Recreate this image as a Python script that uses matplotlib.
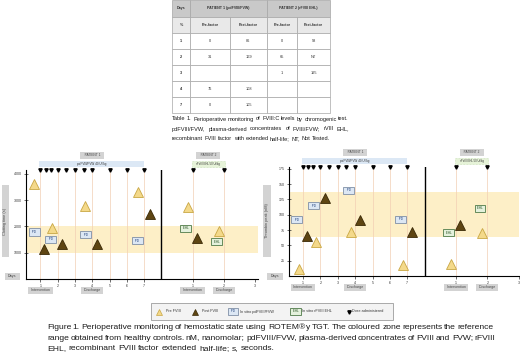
import matplotlib
matplotlib.use('Agg')
import matplotlib.pyplot as plt
from matplotlib.patches import Rectangle

plt.rcParams['font.family'] = ['Liberation Sans', 'DejaVu Sans']

# ---- table data ----
table_days = ['1', '2', '3', '4', '7']
p1_pre = ['0', '31', '', '76', '0']
p1_post = ['86', '169', '', '108', '105']
p2_pre = ['0', '65', '1', '', '']
p2_post = ['98', 'NT', '195', '', '']

# ---- clotting time (s) ----
ct_pre1_day = [0.65, 1.7, 3.6, 6.65]
ct_pre1 = [3620, 1940, 2780, 3310]
ct_post1_day = [1.2, 2.25, 4.3, 7.35]
ct_post1 = [1150, 1330, 1330, 2480]
ct_pd_day = [0.65, 1.6, 3.6, 6.6]
ct_pd = [1790, 1520, 1680, 1450]
ct_pre2_day = [0.84, 1.84]
ct_pre2 = [2740, 1830]
ct_post2_day = [1.13]
ct_post2 = [1560]
ct_ehl_day = [0.77, 1.77]
ct_ehl = [1940, 1410]

# ---- thrombin peak (nM) ----
tp_pre1_day = [0.77, 1.73, 3.74, 6.73]
tp_pre1 = [11, 56, 72, 18]
tp_post1_day = [1.23, 2.25, 4.26, 7.27]
tp_post1 = [65, 128, 92, 72]
tp_pd_day = [0.64, 1.6, 3.63, 6.6]
tp_pd = [92, 115, 140, 93]
tp_pre2_day = [0.84, 1.84]
tp_pre2 = [20, 71]
tp_post2_day = [1.13]
tp_post2 = [83]
tp_ehl_day = [0.76, 1.76]
tp_ehl = [71, 111]

dose_p1 = [1, 1.3, 1.6, 2, 2.5, 3, 3.5, 4, 5, 6, 7]
dose_p2 = [1, 2]

table_caption = [
    "Table 1. Perioperative monitoring of FVIII:C levels by chromogenic test.",
    "pdFVIII/FVW, plasma-derived concentrates of FVIII/FVW; rVIII EHL,",
    "recombinant FVIII factor with extended half-life; NT, Not Tested.",
]
fig_caption = [
    "Figure 1. Perioperative monitoring of hemostatic state using ROTEM\u00ae y TGT. The coloured zone represents the reference",
    "range obtained from healthy controls. nM, nanomolar; pdFVIII/FVW, plasma-derived concentrates of FVIII and FVW; rFVIII",
    "EHL, recombinant FVIII factor extended half-life; s, seconds.",
]

PRE_FC, PRE_EC = '#f4d98a', '#c9a744'
POST_FC, POST_EC = '#5e4512', '#3a2906'
PD_FC, PD_EC = '#dce7f4', '#7f8fa6'
EHL_FC, EHL_EC = '#e4f1dc', '#4f7a48'
BAND = '#fdefc7'
GREY = '#d3d3d3'

W, H = 520, 359
fig = plt.figure(figsize=(W / 100, H / 100), dpi=100)


def add_ax(x0, y0, x1, y1):
    return fig.add_axes([x0 / W, 1 - y1 / H, (x1 - x0) / W, (y1 - y0) / H])


P2_OFF, P2_SCALE = 8.0, 1.8


def p2x(days):
    return [P2_OFF + d * P2_SCALE for d in days]


def box_text(ax, x, y, s, fc, ec, fs=2.2, color='#1f3f7a', **kw):
    ax.text(x, y, s, fontsize=fs, color=color, ha='center', va='center',
            bbox=dict(boxstyle='square,pad=0.5', fc=fc, ec=ec, lw=0.6), **kw)


def panel(ax, xlim, ymax, yticks, band, pre1, post1, pd1, pre2, post2, ehl2):
    ax.set_xlim(*xlim)
    ax.set_ylim(0, ymax)
    ax.axhspan(band[0], band[1], color=BAND, zorder=0, lw=0)
    for d in list(range(1, 8)) + p2x([1, 2]):
        ax.axvline(d, color='#f2cfb4', lw=0.5, zorder=0.5)
    ax.axvline(P2_OFF, color='black', lw=1.0, zorder=1)
    for s in ['top', 'right']:
        ax.spines[s].set_visible(False)
    for s in ['left', 'bottom']:
        ax.spines[s].set_linewidth(0.8)
    ax.set_xticks(list(range(1, 8)) + p2x([1, 2, 3]))
    ax.set_xticklabels([str(i) for i in range(1, 8)] + ['1', '2', '3'])
    ax.set_yticks(yticks)
    ax.tick_params(labelsize=2.6, length=2, width=0.5, pad=1.5, colors='#333333')
    ax.tick_params(axis='y', direction='inout', length=3)

    (d, v), (d2, v2) = pre1, pre2
    ax.plot(list(d) + p2x(d2), list(v) + list(v2), '^', ms=6.8, mfc=PRE_FC, mec=PRE_EC,
            mew=0.6, ls='none', zorder=4)
    (d, v), (d2, v2) = post1, post2
    ax.plot(list(d) + p2x(d2), list(v) + list(v2), '^', ms=6.8, mfc=POST_FC, mec=POST_EC,
            mew=0.6, ls='none', zorder=4)
    for x, y in zip(*pd1):
        box_text(ax, x, y, '  PD  ', PD_FC, PD_EC, zorder=5)
    for x, y in zip(p2x(ehl2[0]), ehl2[1]):
        box_text(ax, x, y, ' EHL ', EHL_FC, EHL_EC, color='#234d1e', zorder=5)

    doses = dose_p1 + p2x(dose_p2)
    ax.plot(doses, [ymax] * len(doses), 'v', color='black', ms=2.4, ls='none',
            clip_on=False, zorder=6)

    tr = ax.get_xaxis_transform()
    ax.add_patch(Rectangle((0.92, 1.025), 7.0 - 0.92, 0.06, transform=tr, fc='#dce8f5',
                           ec='none', clip_on=False))
    ax.text(3.96, 1.055, 'pdFVIII/FVW 40 UI/kg', transform=tr, fontsize=2.2,
            ha='center', va='center', color='#333333')
    g0, g1 = p2x([1, 2])
    ax.add_patch(Rectangle((g0 - 0.05, 1.025), g1 - g0 + 0.1, 0.06, transform=tr, fc='#e6f3d8',
                           ec='#a9d18e', lw=0.4, ls=':', clip_on=False))
    ax.text((g0 + g1) / 2, 1.055, 'rFVIII EHL 50 UI/kg', transform=tr, fontsize=2.0,
            ha='center', va='center', color='#333333')
    for x, s in [(4.0, 'PATIENT 1'), ((g0 + g1) / 2, 'PATIENT 2')]:
        ax.text(x, 1.135, '   ' + s + '   ', transform=tr, fontsize=2.3, ha='center',
                va='center', color='#444444',
                bbox=dict(boxstyle='square,pad=0.5', fc=GREY, ec='none'))
    for x, s in [(1.0, 'Intervention'), (4.0, 'Discharge'),
                 (p2x([1])[0], 'Intervention'), (p2x([2])[0], 'Discharge')]:
        ax.text(x, -0.105, ' ' + s + ' ', transform=tr, fontsize=2.6, ha='center',
                va='center', color='#444444',
                bbox=dict(boxstyle='square,pad=0.5', fc=GREY, ec='none'))


ax1 = add_ax(26, 170, 258, 279)
panel(ax1, (0.17, 13.58), 4150, [1000, 2000, 3000, 4000], (1000, 2000),
      (ct_pre1_day, ct_pre1), (ct_post1_day, ct_post1), (ct_pd_day, ct_pd),
      (ct_pre2_day, ct_pre2), (ct_post2_day, ct_post2), (ct_ehl_day, ct_ehl))

ax2 = add_ax(289, 167, 519, 276)
panel(ax2, (0.2, 13.42), 178, [25, 50, 75, 100, 125, 150, 175], (64, 137),
      (tp_pre1_day, tp_pre1), (tp_post1_day, tp_post1), (tp_pd_day, tp_pd),
      (tp_pre2_day, tp_pre2), (tp_post2_day, tp_post2), (tp_ehl_day, tp_ehl))

# ---- overlay in pixel coordinates for table, labels, legend, captions ----
ov = fig.add_axes([0, 0, 1, 1], zorder=-1)
ov.set_xlim(0, W)
ov.set_ylim(H, 0)
ov.axis('off')

# y-label and "Days" boxes
for (x0, x1), lab in [((2, 9), 'Clotting time (s)'), ((263, 271), 'Thrombin peak (nM)')]:
    ov.add_patch(Rectangle((x0, 185), x1 - x0, 72, fc=GREY, ec='none'))
    ov.text((x0 + x1) / 2, 221, lab, rotation=90, fontsize=2.8, ha='center', va='center',
            color='#444444')
for x0, x1 in [(5, 20), (267, 283)]:
    ov.add_patch(Rectangle((x0, 273), x1 - x0, 7, fc=GREY, ec='none'))
    ov.text((x0 + x1) / 2, 276.5, 'Days', fontsize=2.7, ha='center', va='center', color='#444444')

# table
cols = [172, 190, 230, 267, 297, 330]
rows = [0, 17, 33, 49, 65, 81, 97, 113]
line_kw = dict(ec='#a6a6a6', lw=0.5)
head = ['Days', 'PATIENT 1 (pdFVIII/FVW)', 'PATIENT 2 (rFVIII EHL)']
for (c0, c1), s in zip([(cols[0], cols[1]), (cols[1], cols[3]), (cols[3], cols[5])], head):
    ov.add_patch(Rectangle((c0, rows[0]), c1 - c0, rows[1] - rows[0], fc='#c9c9c9', **line_kw))
    ov.text((c0 + c1) / 2, (rows[0] + rows[1]) / 2, s, fontsize=2.6, weight='bold',
            ha='center', va='center', color='#333333')
sub = ['%', 'Pre-factor', 'Post-factor', 'Pre-factor', 'Post-factor']
body = [table_days, p1_pre, p1_post, p2_pre, p2_post]
for j in range(5):
    c0, c1 = cols[j], cols[j + 1]
    ov.add_patch(Rectangle((c0, rows[1]), c1 - c0, rows[2] - rows[1], fc='#e9e9e9', **line_kw))
    ov.text((c0 + c1) / 2, (rows[1] + rows[2]) / 2, sub[j], fontsize=2.6, weight='bold',
            ha='center', va='center', color='#333333')
    for i in range(5):
        r0, r1 = rows[i + 2], rows[i + 3]
        ov.add_patch(Rectangle((c0, r0), c1 - c0, r1 - r0, fc='white', **line_kw))
        ov.text((c0 + c1) / 2, (r0 + r1) / 2, body[j][i], fontsize=2.8,
                weight='bold' if j == 0 else 'normal', ha='center', va='center', color='#333333')

# legend
ov.add_patch(Rectangle((151, 303), 242, 17, fc='#f3f3f3', ec='#9c9c9c', lw=0.6))
ly = 311.5
ov.plot([159], [ly], '^', ms=5, mfc=PRE_FC, mec=PRE_EC, mew=0.5)
ov.text(166, ly, 'Pre FVIII', fontsize=2.7, va='center', color='#333333')
ov.plot([195], [ly], '^', ms=5, mfc=POST_FC, mec=POST_EC, mew=0.5)
ov.text(202, ly, 'Post FVIII', fontsize=2.7, va='center', color='#333333')
box_text(ov, 233, ly, '  PD  ', PD_FC, PD_EC)
ov.text(240, ly, 'In vitro pdFVIII/FVW', fontsize=2.7, va='center', color='#333333')
box_text(ov, 295.5, ly, ' EHL ', EHL_FC, EHL_EC, color='#234d1e')
ov.text(302, ly, 'In vitro rFVIII EHL', fontsize=2.7, va='center', color='#333333')
ov.plot([349], [ly], 'v', color='black', ms=2.4)
ov.text(352, ly, 'Dose administered', fontsize=2.7, va='center', color='#333333')

# captions, justified
renderer = fig.canvas.get_renderer()


def justify(line, x0, x1, y, fs, stretch=True):
    words = line.split()
    texts = [ov.text(0, y, w, fontsize=fs, va='center', ha='left', color='#1a1a1a') for w in words]
    widths = [t.get_window_extent(renderer).width for t in texts]
    space = fs * 100 / 72 * 0.28
    gap = space
    if stretch and len(words) > 1:
        gap = max((x1 - x0 - sum(widths)) / (len(words) - 1), 0.6 * space)
    x = x0
    for t, w in zip(texts, widths):
        t.set_x(x)
        x += w + gap


for k, line in enumerate(table_caption):
    justify(line, 172, 349, 119 + 10 * k, 4.1, stretch=k < 2)
for k, line in enumerate(fig_caption):
    justify(line, 47, 470, 327.5 + 10.5 * k, 6.1, stretch=k < 2)

fig.savefig('out.png', dpi=100)
